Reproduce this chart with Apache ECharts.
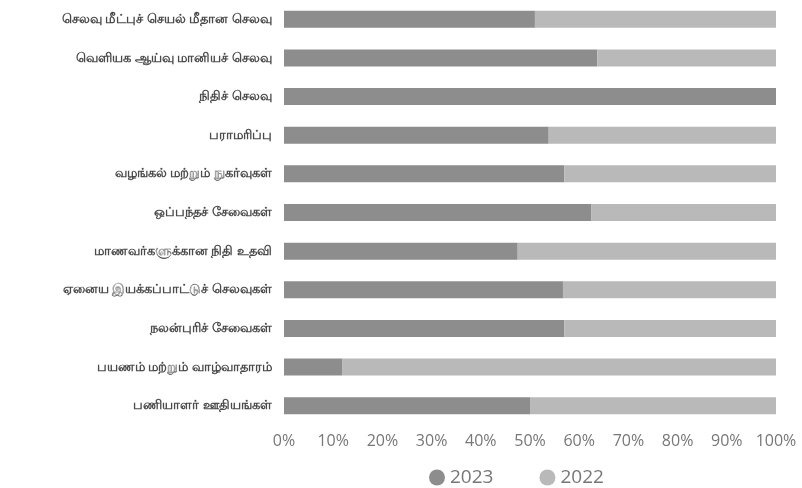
<!DOCTYPE html>
<html>
<head>
<meta charset="utf-8">
<script src="https://cdn.jsdelivr.net/npm/echarts@6/dist/echarts.min.js"></script>
<style>
  html, body { margin: 0; padding: 0; background: #fff; }
  #chart { width: 802px; height: 488px; }
</style>
</head>
<body>
<div id="chart"></div>
<script>
// செலவு வகைகள் (மேலிருந்து கீழ்)
const categories = [
  "செலவு மீட்புச் செயல் மீதான செலவு",
  "வெளியக ஆய்வு மானியச் செலவு",
  "நிதிச் செலவு",
  "பராமரிப்பு",
  "வழங்கல் மற்றும் நுகர்வுகள்",
  "ஒப்பந்தச் சேவைகள்",
  "மாணவர்களுக்கான நிதி உதவி",
  "ஏனைய இயக்கப்பாட்டுச் செலவுகள்",
  "நலன்புரிச் சேவைகள்",
  "பயணம் மற்றும் வாழ்வாதாரம்",
  "பணியாளர் ஊதியங்கள்"
];

// பங்கு (%)
const values2023 = [51, 63.7, 100, 53.8, 57, 62.5, 47.5, 56.7, 57, 11.8, 50];
const values2022 = [49, 36.3, 0, 46.2, 43, 37.5, 52.5, 43.3, 43, 88.2, 50];

const tickLabels = ["0%", "10%", "20%", "30%", "40%", "50%", "60%", "70%", "80%", "90%", "100%"];

const chart = echarts.init(document.getElementById("chart"), null, { renderer: "canvas" });

chart.setOption({
  animation: false,
  color: ["#8d8d8d", "#b9b9b9"],
  grid: {
    left: 284,
    right: 26,
    top: -6,
    height: 431
  },
  legend: {
    data: ["2023", "2022"],
    bottom: -4,
    left: 424,
    icon: "circle",
    itemWidth: 16,
    itemHeight: 16,
    itemGap: 46,
    textStyle: {
      color: "#777",
      fontSize: 19,
      fontFamily: "Open Sans"
    }
  },
  xAxis: {
    type: "value",
    min: 0,
    max: 100,
    interval: 10,
    axisLine: { show: false },
    axisTick: { show: false },
    splitLine: { show: false },
    axisLabel: {
      margin: 8,
      color: "#777",
      fontSize: 16,
      fontFamily: "Open Sans",
      formatter: (v) => tickLabels[Math.round(v / 10)]
    }
  },
  yAxis: {
    type: "category",
    inverse: true,
    data: categories,
    axisLine: { show: false },
    axisTick: { show: false },
    axisLabel: {
      margin: 12,
      color: "#4a4a4a",
      fontSize: 13,
      fontWeight: "bold"
    }
  },
  series: [
    {
      name: "2023",
      type: "bar",
      stack: "total",
      barWidth: 17,
      data: values2023
    },
    {
      name: "2022",
      type: "bar",
      stack: "total",
      barWidth: 17,
      data: values2022
    }
  ]
});
</script>
</body>
</html>
